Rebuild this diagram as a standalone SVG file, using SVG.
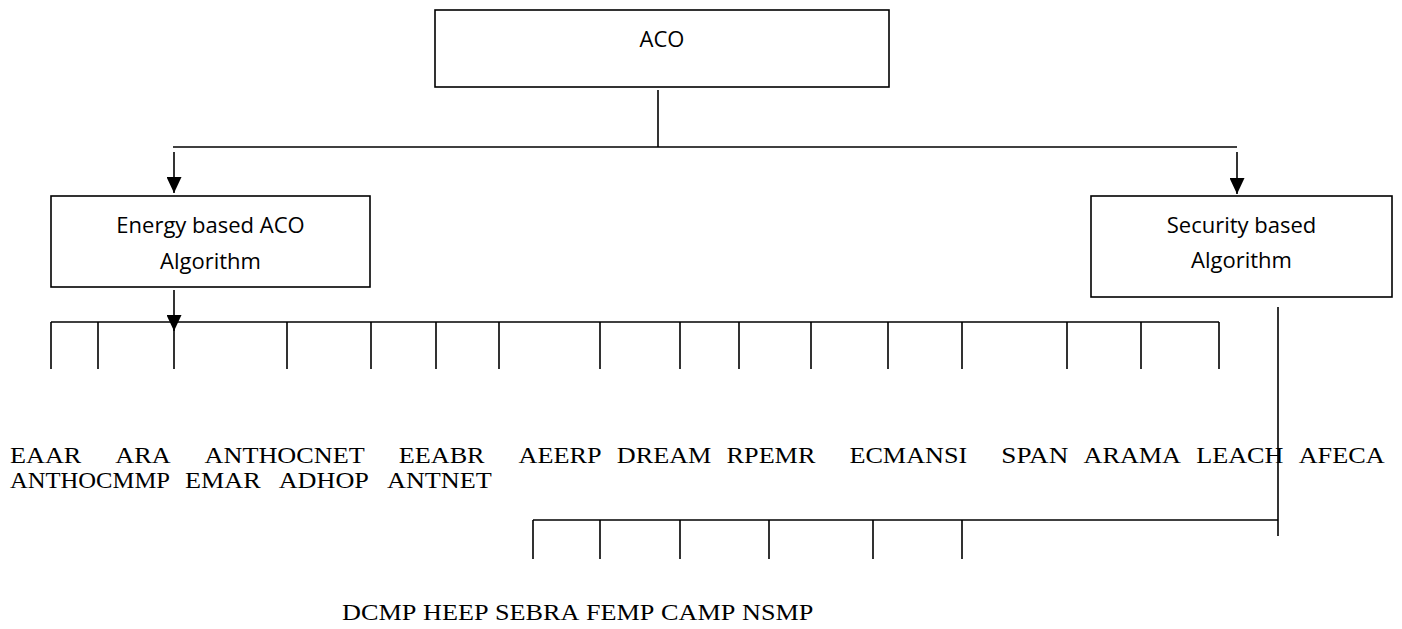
<svg xmlns="http://www.w3.org/2000/svg" width="1402" height="629" viewBox="0 0 1402 629">
<style>
.box{fill:#fff;stroke:#000;stroke-width:1.6}
.ln{fill:none;stroke:#000;stroke-width:1.6}
.bt{font-family:"Open Sans","Liberation Sans",sans-serif;font-size:22px;fill:#000;text-anchor:middle}
.lb{font-family:"Liberation Serif","Times New Roman",serif;font-size:23px;fill:#000}
</style>
<defs>
<marker id="ah" viewBox="0 0 16 15" refX="16" refY="7.5" markerWidth="16" markerHeight="15" markerUnits="userSpaceOnUse" orient="auto">
<path d="M0,0 L16,7.5 L0,15 z" fill="#000"/>
</marker>
</defs>
<g id="connectors">
<line class="ln" x1="658" y1="90" x2="658" y2="147"/>
<line class="ln" x1="173" y1="147" x2="1237" y2="147"/>
<line class="ln" x1="174" y1="152" x2="174" y2="193" marker-end="url(#ah)"/>
<line class="ln" x1="1237" y1="152" x2="1237" y2="194" marker-end="url(#ah)"/>
<line class="ln" x1="174" y1="290" x2="174" y2="331" marker-end="url(#ah)"/>
<line class="ln" x1="51" y1="322" x2="1219" y2="322"/>
<path class="ln" d="M51,322V369M98,322V369M174,322V369M287,322V369M371,322V369M436,322V369M499,322V369M600,322V369M680,322V369M739,322V369M811,322V369M888,322V369M962,322V369M1067,322V369M1141,322V369M1219,322V369"/>
<line class="ln" x1="1278" y1="307" x2="1278" y2="536"/>
<line class="ln" x1="533" y1="520" x2="1278" y2="520"/>
<path class="ln" d="M533,520V559M600,520V559M680,520V559M769,520V559M873,520V559M962,520V559"/>
</g>
<g id="aco">
<rect class="box" x="435" y="10" width="454" height="77"/>
<text class="bt" x="662" y="47">ACO</text>
</g>
<g id="energy">
<rect class="box" x="51" y="196" width="319" height="91"/>
<text class="bt" x="210.5" y="233">Energy based ACO</text>
<text class="bt" x="210.5" y="269">Algorithm</text>
</g>
<g id="security">
<rect class="box" x="1091" y="196" width="301" height="101"/>
<text class="bt" x="1241.5" y="233">Security based</text>
<text class="bt" x="1241.5" y="268">Algorithm</text>
</g>
<g id="energy-algorithms">
<text class="lb" x="10" y="463" textLength="71.3" lengthAdjust="spacingAndGlyphs">EAAR</text>
<text class="lb" x="115.3" y="463" textLength="55.3" lengthAdjust="spacingAndGlyphs">ARA</text>
<text class="lb" x="204.6" y="463" textLength="160.1" lengthAdjust="spacingAndGlyphs">ANTHOCNET</text>
<text class="lb" x="398.7" y="463" textLength="85.9" lengthAdjust="spacingAndGlyphs">EEABR</text>
<text class="lb" x="518.6" y="463" textLength="83" lengthAdjust="spacingAndGlyphs">AEERP</text>
<text class="lb" x="616.8" y="463" textLength="94.6" lengthAdjust="spacingAndGlyphs">DREAM</text>
<text class="lb" x="726.6" y="463" textLength="88.8" lengthAdjust="spacingAndGlyphs">RPEMR</text>
<text class="lb" x="849.4" y="463" textLength="117.9" lengthAdjust="spacingAndGlyphs">ECMANSI</text>
<text class="lb" x="1001.3" y="463" textLength="67" lengthAdjust="spacingAndGlyphs">SPAN</text>
<text class="lb" x="1083.5" y="463" textLength="97.5" lengthAdjust="spacingAndGlyphs">ARAMA</text>
<text class="lb" x="1196.2" y="463" textLength="87.3" lengthAdjust="spacingAndGlyphs">LEACH</text>
<text class="lb" x="1298.7" y="463" textLength="85.9" lengthAdjust="spacingAndGlyphs">AFECA</text>
<text class="lb" x="10" y="488" textLength="160" lengthAdjust="spacingAndGlyphs">ANTHOCMMP</text>
<text class="lb" x="185" y="488" textLength="75.7" lengthAdjust="spacingAndGlyphs">EMAR</text>
<text class="lb" x="278.7" y="488" textLength="90.2" lengthAdjust="spacingAndGlyphs">ADHOP</text>
<text class="lb" x="387" y="488" textLength="104.8" lengthAdjust="spacingAndGlyphs">ANTNET</text>
</g>
<g id="security-algorithms">
<text class="lb" x="342" y="620" textLength="74.3" lengthAdjust="spacingAndGlyphs">DCMP</text>
<text class="lb" x="423" y="620" textLength="65.5" lengthAdjust="spacingAndGlyphs">HEEP</text>
<text class="lb" x="495" y="620" textLength="84.4" lengthAdjust="spacingAndGlyphs">SEBRA</text>
<text class="lb" x="586" y="620" textLength="68.4" lengthAdjust="spacingAndGlyphs">FEMP</text>
<text class="lb" x="661" y="620" textLength="74.3" lengthAdjust="spacingAndGlyphs">CAMP</text>
<text class="lb" x="742" y="620" textLength="71.3" lengthAdjust="spacingAndGlyphs">NSMP</text>
</g>
</svg>
